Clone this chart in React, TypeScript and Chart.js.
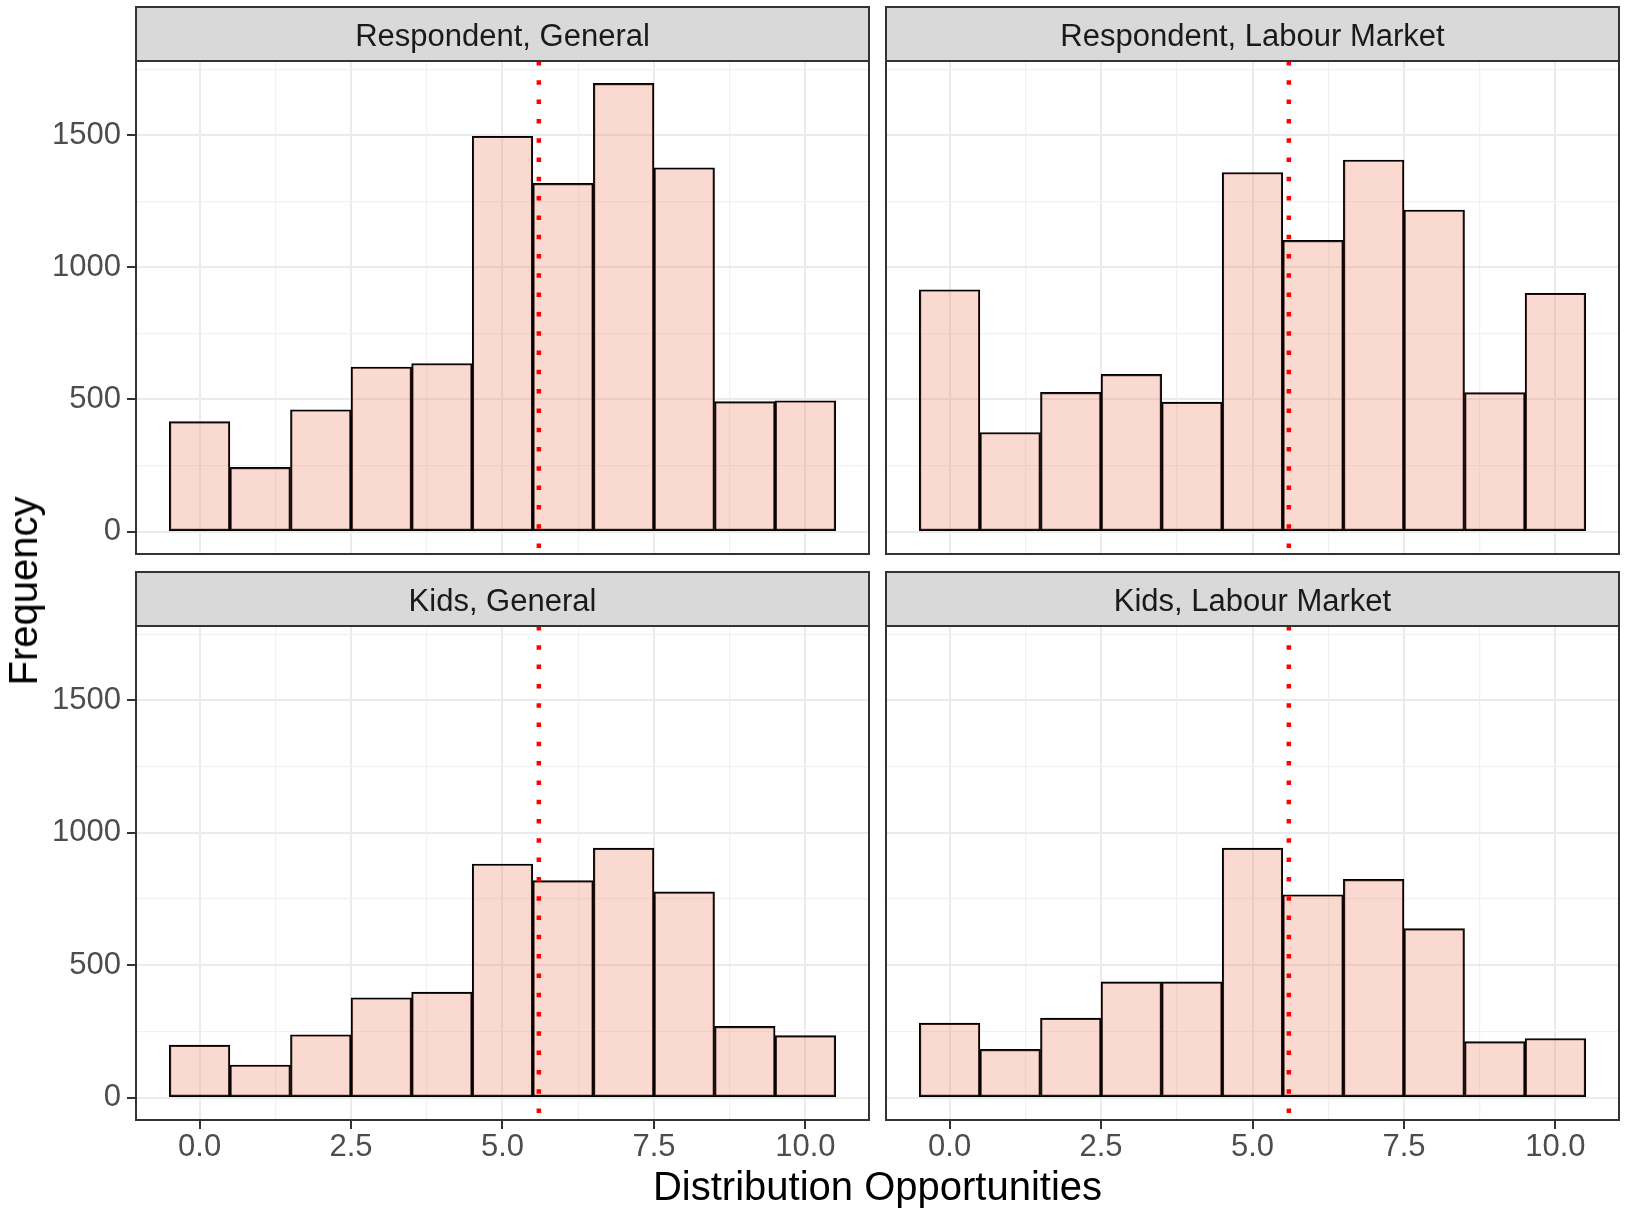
import React, { useEffect, useRef } from "react";
import { Chart, registerables } from "chart.js";

Chart.register(...registerables);

// ---------------- data ----------------
const BINS = [0, 1, 2, 3, 4, 5, 6, 7, 8, 9, 10];
const RESPONDENT_GENERAL = [416, 243, 461, 623, 636, 1496, 1318, 1696, 1377, 492, 495];
const RESPONDENT_LABOUR = [915, 375, 527, 595, 490, 1359, 1102, 1406, 1217, 526, 902];
const KIDS_GENERAL = [198, 123, 237, 377, 398, 882, 819, 942, 777, 269, 234];
const KIDS_LABOUR = [281, 182, 300, 437, 437, 942, 766, 824, 638, 211, 223];
const PANEL_TITLES = [
  "Respondent, General",
  "Respondent, Labour Market",
  "Kids, General",
  "Kids, Labour Market",
];
const MEAN_LINES = [5.6, 5.6, 5.6, 5.6];
const X_MAJOR = [0, 2.5, 5, 7.5, 10];
const X_MAJOR_LABELS = ["0.0", "2.5", "5.0", "7.5", "10.0"];
const X_MINOR = [1.25, 3.75, 6.25, 8.75];
const Y_MAJOR = [0, 500, 1000, 1500];
const Y_MAJOR_LABELS = ["0", "500", "1000", "1500"];
const Y_MINOR = [250, 750, 1250, 1750];
const X_TITLE = "Distribution Opportunities";
const Y_TITLE = "Frequency";

const SERIES = [RESPONDENT_GENERAL, RESPONDENT_LABOUR, KIDS_GENERAL, KIDS_LABOUR];

// ---------------- layout / style ----------------
const PAGE_W = 1627;
const PAGE_H = 1212;
const STRIP_H = 54;
const GEOM = [
  { left: 136, right: 869, top: 61, bottom: 554, showX: false, showY: true },
  { left: 886, right: 1619, top: 61, bottom: 554, showX: false, showY: false },
  { left: 136, right: 869, top: 626, bottom: 1120, showX: true, showY: true },
  { left: 886, right: 1619, top: 626, bottom: 1120, showX: true, showY: false },
];
const FONT = "'Liberation Sans', Arial, Helvetica, sans-serif";
const FILL = "rgba(240, 128, 100, 0.3)";
const GRID = "#EBEBEB";
const DARK = "#333333";

const allMax = Math.max(...SERIES.flat());
const binLo = BINS[0] - 0.5;
const binHi = BINS[BINS.length - 1] + 0.5;
const xPad = (binHi - binLo) * 0.05;
const X_MIN = binLo - xPad;
const X_MAX = binHi + xPad;
const Y_MIN = -allMax * 0.05;
const Y_MAX = allMax * 1.05;

const panelPlugin = {
  id: "panelDecor",
  afterDraw(chart: any) {
    const { ctx, chartArea } = chart;
    const title = chart.options.plugins.panelDecor.title;
    const w = chartArea.right - chartArea.left;
    ctx.save();
    // strip
    ctx.fillStyle = "#D9D9D9";
    ctx.fillRect(chartArea.left, chartArea.top - STRIP_H, w, STRIP_H);
    ctx.strokeStyle = DARK;
    ctx.lineWidth = 2;
    ctx.strokeRect(chartArea.left, chartArea.top - STRIP_H, w, STRIP_H);
    ctx.fillStyle = "#1A1A1A";
    ctx.font = `31px ${FONT}`;
    ctx.textAlign = "center";
    ctx.textBaseline = "alphabetic";
    ctx.fillText(title, chartArea.left + w / 2, chartArea.top - STRIP_H / 2 + 11.5);
    // panel border
    ctx.strokeRect(chartArea.left, chartArea.top, w, chartArea.bottom - chartArea.top);
    ctx.restore();
  },
};

function makeConfig(i: number): any {
  const g = GEOM[i];
  const yAxisW = g.showY ? 100 : 0;
  const xAxisH = g.showX ? 70 : 0;
  const xTicks = [...X_MAJOR, ...X_MINOR].sort((a, b) => a - b);
  const yTicks = [...Y_MAJOR, ...Y_MINOR].sort((a, b) => a - b);
  return {
    type: "bar",
    data: {
      datasets: [
        {
          type: "line",
          data: [
            { x: MEAN_LINES[i], y: Y_MAX },
            { x: MEAN_LINES[i], y: Y_MIN },
          ],
          borderColor: "#FF0000",
          borderWidth: 4.5,
          borderDash: [4.5, 14.8],
          borderCapStyle: "butt",
          pointRadius: 0,
          fill: false,
          order: 0,
        },
        {
          type: "bar",
          data: BINS.map((b, k) => ({ x: b, y: SERIES[i][k] })),
          backgroundColor: FILL,
          borderColor: "#000000",
          borderWidth: 1.5,
          borderSkipped: false,
          barPercentage: 1,
          categoryPercentage: 1,
          grouped: false,
          order: 1,
        },
      ],
    },
    options: {
      animation: false,
      responsive: false,
      maintainAspectRatio: false,
      devicePixelRatio: 1,
      events: [],
      layout: {
        padding: {
          left: g.left - yAxisW,
          right: PAGE_W - g.right,
          top: g.top,
          bottom: PAGE_H - g.bottom - xAxisH,
        },
      },
      plugins: {
        legend: { display: false },
        tooltip: { enabled: false },
        title: { display: false },
        panelDecor: { title: PANEL_TITLES[i] },
      },
      scales: {
        x: {
          type: "linear",
          min: X_MIN,
          max: X_MAX,
          offset: false,
          afterBuildTicks: (s: any) => {
            s.ticks = xTicks.map((v) => ({ value: v }));
          },
          afterFit: (s: any) => {
            s.height = xAxisH;
          },
          ticks: {
            display: g.showX,
            autoSkip: false,
            maxRotation: 0,
            minRotation: 0,
            padding: 3,
            color: "#4D4D4D",
            font: { family: FONT, size: 31, lineHeight: 1 },
            callback: (v: number) => {
              const k = X_MAJOR.indexOf(v);
              return k >= 0 ? X_MAJOR_LABELS[k] : "";
            },
          },
          grid: {
            offset: false,
            drawTicks: g.showX,
            tickLength: 9,
            tickWidth: 2,
            color: (c: any) => (c.tick && X_MAJOR.includes(c.tick.value) ? GRID : "#F1F1F1"),
            lineWidth: (c: any) => (c.tick && X_MAJOR.includes(c.tick.value) ? 2 : 1.2),
            tickColor: (c: any) =>
              c.tick && X_MAJOR.includes(c.tick.value) ? DARK : "rgba(0,0,0,0)",
          },
          border: { display: false },
        },
        y: {
          type: "linear",
          min: Y_MIN,
          max: Y_MAX,
          afterBuildTicks: (s: any) => {
            s.ticks = yTicks.map((v) => ({ value: v }));
          },
          afterFit: (s: any) => {
            s.width = yAxisW;
          },
          ticks: {
            display: g.showY,
            autoSkip: false,
            padding: 6,
            color: "#4D4D4D",
            font: { family: FONT, size: 31, lineHeight: 1 },
            callback: (v: number) => {
              const k = Y_MAJOR.indexOf(v);
              return k >= 0 ? Y_MAJOR_LABELS[k] : "";
            },
          },
          grid: {
            drawTicks: g.showY,
            tickLength: 9,
            tickWidth: 2,
            color: (c: any) => (c.tick && Y_MAJOR.includes(c.tick.value) ? GRID : "#F1F1F1"),
            lineWidth: (c: any) => (c.tick && Y_MAJOR.includes(c.tick.value) ? 2 : 1.2),
            tickColor: (c: any) =>
              c.tick && Y_MAJOR.includes(c.tick.value) ? DARK : "rgba(0,0,0,0)",
          },
          border: { display: false },
        },
      },
    },
    plugins: [panelPlugin],
  };
}

export default function App() {
  const r0 = useRef<HTMLCanvasElement | null>(null);
  const r1 = useRef<HTMLCanvasElement | null>(null);
  const r2 = useRef<HTMLCanvasElement | null>(null);
  const r3 = useRef<HTMLCanvasElement | null>(null);
  const refs = [r0, r1, r2, r3];

  useEffect(() => {
    const charts = refs.map((r, i) => new Chart(r.current as HTMLCanvasElement, makeConfig(i)));
    return () => charts.forEach((c) => c.destroy());
  }, []);

  const plotCenterX = (GEOM[0].left + GEOM[1].right) / 2;
  const plotCenterY = (GEOM[0].top + GEOM[2].bottom) / 2;

  return (
    <div
      style={{
        position: "absolute",
        left: 0,
        top: 0,
        width: PAGE_W,
        height: PAGE_H,
        background: "#FFFFFF",
        overflow: "hidden",
      }}
    >
      {refs.map((r, i) => (
        <canvas
          key={i}
          ref={r}
          width={PAGE_W}
          height={PAGE_H}
          style={{ position: "absolute", left: 0, top: 0, width: PAGE_W, height: PAGE_H }}
        />
      ))}
      <div
        style={{
          position: "absolute",
          left: plotCenterX,
          top: 1166,
          transform: "translateX(-50%)",
          font: `40px ${FONT}`,
          lineHeight: "40px",
          color: "#000000",
          whiteSpace: "nowrap",
        }}
      >
        {X_TITLE}
      </div>
      <div
        style={{
          position: "absolute",
          left: 23,
          top: plotCenterY,
          transform: "translate(-50%, -50%) rotate(-90deg)",
          font: `40px ${FONT}`,
          lineHeight: "40px",
          color: "#000000",
          whiteSpace: "nowrap",
        }}
      >
        {Y_TITLE}
      </div>
    </div>
  );
}
